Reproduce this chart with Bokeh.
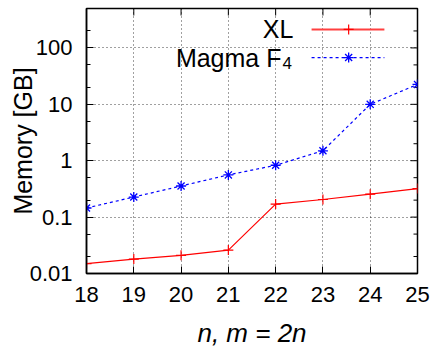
import math
from bokeh.plotting import figure
from bokeh.models import (FixedTicker, LinearAxis, LogAxis, Range1d, LinearScale)
from bokeh.core.properties import value
from bokeh.embed import file_html
from bokeh.resources import INLINE

# ---- data ----
n_vals = [18, 19, 20, 21, 22, 23, 24, 25]
xl_mem = [0.015, 0.018, 0.021, 0.026, 0.17, 0.205, 0.255, 0.32]
magma_mem = [0.145, 0.227, 0.356, 0.56, 0.83, 1.5, 10.0, 22.5]
x_ticks = [18, 19, 20, 21, 22, 23, 24, 25]
y_ticks = [0.01, 0.1, 1, 10, 100]
y_tick_labels = ["0.01", "0.1", "1", "10", "100"]
y_minor = [0.02, 0.05, 0.2, 0.5, 2, 5, 20, 50, 200]
series_names = ["XL", "Magma F", "4"]
x_label = "n, m = 2n"
y_label = "Memory [GB]"

X0, X1 = 18, 25
Y0, Y1 = 0.01, 500

FONT = "Liberation Sans"
W, H = 435, 351
BL, BR, BT, BB = 86, 18, 8, 78

p = figure(width=W, height=H, x_range=Range1d(X0, X1), y_range=Range1d(Y0, Y1),
           y_axis_type="log", output_backend="svg", toolbar_location=None,
           min_border_left=BL, min_border_right=BR, min_border_top=BT, min_border_bottom=BB,
           x_axis_location=None, y_axis_location=None)
p.outline_line_color = "black"
p.outline_line_width = 1.5
p.background_fill_color = "white"
p.border_fill_color = "white"

xt = FixedTicker(ticks=x_ticks, minor_ticks=[])
yt = FixedTicker(ticks=y_ticks, minor_ticks=y_minor)

def style(ax):
    ax.axis_line_color = "black"
    ax.axis_line_width = 1.5
    ax.major_tick_in = 7
    ax.major_tick_out = 0
    ax.minor_tick_in = 4
    ax.minor_tick_out = 0
    ax.major_tick_line_color = "black"
    ax.minor_tick_line_color = "black"
    ax.major_label_text_font = FONT
    ax.major_label_text_font_size = "22px"
    ax.major_label_text_color = "black"
    ax.axis_label_text_font = FONT
    ax.axis_label_text_color = "black"

bottom = LinearAxis(ticker=xt)
style(bottom)
bottom.major_label_standoff = 13
bottom.axis_label = x_label
bottom.axis_label_text_font_size = "26px"
bottom.axis_label_text_font_style = "italic"
bottom.axis_label_standoff = 13
p.add_layout(bottom, "below")

left = LogAxis(ticker=yt)
style(left)
left.major_label_standoff = 14
left.major_label_overrides = {t: s for t, s in zip(y_ticks, y_tick_labels)}
left.axis_label = y_label
left.axis_label_text_font_size = "25px"
left.axis_label_text_font_style = "normal"
left.axis_label_standoff = -10
p.add_layout(left, "left")

# mirrored inward ticks on top and right edges (clipped half-dashes)
p.scatter(x_ticks[1:-1], [Y1] * (len(x_ticks) - 2), marker="dash", angle=math.pi / 2, size=14,
          line_color="black", line_width=1)
p.scatter([X1] * len(y_ticks), y_ticks, marker="dash", size=14, line_color="black", line_width=1)
p.scatter([X1] * len(y_minor), y_minor, marker="dash", size=8, line_color="black", line_width=1)

p.xgrid.ticker = FixedTicker(ticks=x_ticks[1:-1])
p.ygrid.ticker = FixedTicker(ticks=y_ticks)
for g in (p.xgrid, p.ygrid):
    g.grid_line_color = "black"
    g.grid_line_alpha = 0.75
    g.grid_line_dash = "1 3"
    g.grid_line_width = 1

# series
p.line(n_vals, xl_mem, line_color="#ff0000", line_width=1.2)
p.scatter(n_vals, xl_mem, marker="cross", size=10, line_color="#ff0000", line_width=1.2)
p.line(n_vals, magma_mem, line_color="#0000ff", line_width=1.2, line_dash="3 3")
p.scatter(n_vals, magma_mem, marker="asterisk", size=10, line_color="#0000ff", line_width=1.3)

# legend in frame-fraction coordinates
p.extra_x_ranges = {"fx": Range1d(0, 1)}
p.extra_y_ranges = {"fy": Range1d(0, 1)}
p.extra_x_scales = {"fx": LinearScale()}
p.extra_y_scales = {"fy": LinearScale()}
rows = [0.921, 0.815]
lx0, lx1, lxm = 0.680, 0.900, 0.792
p.line([lx0, lx1], [rows[0], rows[0]], x_range_name="fx", y_range_name="fy",
       line_color="#ff4040", line_width=2)
p.scatter([lxm], [rows[0]], x_range_name="fx", y_range_name="fy", marker="cross", size=10,
          line_color="#ff0000", line_width=1.2)
p.line([lx0, lx1], [rows[1], rows[1]], x_range_name="fx", y_range_name="fy",
       line_color="#0000ff", line_width=1.2, line_dash="3 3")
p.scatter([lxm], [rows[1]], x_range_name="fx", y_range_name="fy", marker="asterisk", size=10,
          line_color="#0000ff", line_width=1.3)
p.text([0.625], [rows[0]], text=[series_names[0]], x_range_name="fx", y_range_name="fy",
       text_font=value(FONT), text_font_size="25px", text_align="right", text_baseline="middle",
       text_color="black")
p.text([0.589], [rows[1]], text=[series_names[1]], x_range_name="fx", y_range_name="fy",
       text_font=value(FONT), text_font_size="25px", text_align="right", text_baseline="middle",
       text_color="black")
p.text([0.592], [0.796], text=[series_names[2]], x_range_name="fx", y_range_name="fy",
       text_font=value(FONT), text_font_size="17px", text_align="left", text_baseline="middle",
       text_color="black")

open("out.html", "w").write(file_html(p, INLINE))
